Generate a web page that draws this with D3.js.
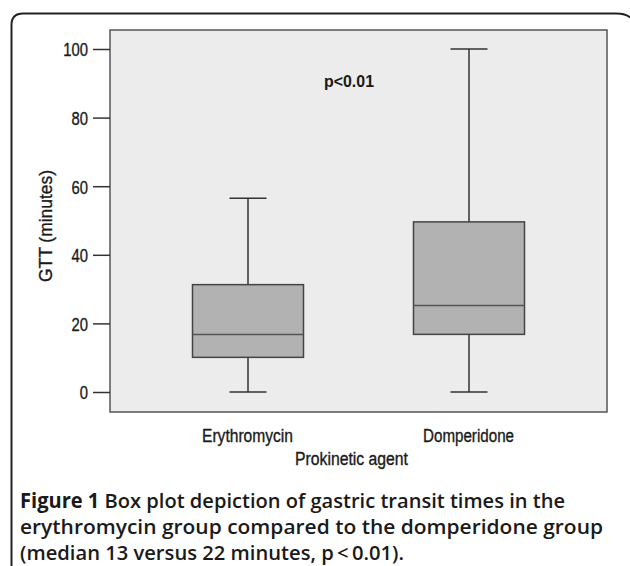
<!DOCTYPE html>
<html>
<head>
<meta charset="utf-8">
<script src="https://cdn.jsdelivr.net/npm/d3@7"></script>
<style>
  body { margin: 0; background: #fff; }
  svg { display: block; }
</style>
</head>
<body>
<div id="chart"></div>
<script>
// Box plot data (minutes)
const groups = ['Erythromycin', 'Domperidone'];
const whiskerLow = [0, 0];
const q1 = [10.1, 16.8];
const medians = [16.8, 25.2];
const q3 = [31.3, 49.6];
const whiskerHigh = [56.5, 100];
const yTicks = [0, 20, 40, 60, 80, 100];

const width = 630, height = 566;
const plot = { left: 110, top: 30, right: 607, bottom: 412 };

const svg = d3.select('#chart').append('svg')
  .attr('width', width)
  .attr('height', height);

// Outer rounded frame (open at the bottom / right)
svg.append('path')
  .attr('d', `M11.5,${height + 5} L11.5,25 Q11.5,13.5 23,13.5 L616,13.5 Q627,13.5 632,19`)
  .attr('fill', 'none')
  .attr('stroke', '#222')
  .attr('stroke-width', 2);

// Plot panel
svg.append('rect')
  .attr('x', plot.left).attr('y', plot.top)
  .attr('width', plot.right - plot.left)
  .attr('height', plot.bottom - plot.top)
  .attr('fill', '#ececec')
  .attr('stroke', '#555')
  .attr('stroke-width', 1.5);

const y = d3.scaleLinear().domain([0, 100]).range([392, 49]);
const x = d3.scalePoint().domain(groups).range([248, 469]);

const axisFont = '"Liberation Sans", Arial, sans-serif';
const ink = '#1a1a1a';
const squeeze = 0.78;

// thicken the narrow axis text a little
function inked(sel) {
  return sel.attr('fill', ink).attr('stroke', ink).attr('stroke-width', 0.35);
}

// Y axis
const yAxis = svg.append('g')
  .attr('transform', `translate(${plot.left},0)`)
  .call(d3.axisLeft(y).tickValues(yTicks).tickSize(17).tickPadding(5));
yAxis.select('.domain').remove();
yAxis.selectAll('.tick line').attr('stroke', '#333').attr('stroke-width', 1.5);
yAxis.selectAll('.tick text')
  .attr('font-family', axisFont)
  .attr('font-size', '19px')
  .attr('x', -22 / squeeze)
  .attr('dy', '0.36em')
  .attr('transform', `scale(${squeeze},1)`)
  .call(inked);

svg.append('text')
  .attr('transform', `translate(52,226) rotate(-90)`)
  .attr('text-anchor', 'middle')
  .attr('font-family', axisFont)
  .attr('font-size', '19px')
  .attr('textLength', 112)
  .attr('lengthAdjust', 'spacingAndGlyphs')
  .text('GTT (minutes)')
  .call(inked);

// X labels
svg.append('g').selectAll('text')
  .data(groups)
  .join('text')
  .attr('x', d => x(d) - 46)
  .attr('y', 442)
  .attr('font-family', axisFont)
  .attr('font-size', '18px')
  .attr('textLength', 91)
  .attr('lengthAdjust', 'spacingAndGlyphs')
  .text(d => d)
  .call(inked);

svg.append('text')
  .attr('x', 295).attr('y', 465)
  .attr('font-family', axisFont)
  .attr('font-size', '18px')
  .attr('textLength', 113)
  .attr('lengthAdjust', 'spacingAndGlyphs')
  .text('Prokinetic agent')
  .call(inked);

// Boxes
const boxW = 111, capW = 37;
const boxes = svg.append('g').selectAll('g')
  .data(groups.map((g, i) => ({ g, lo: whiskerLow[i], q1: q1[i], med: medians[i], q3: q3[i], hi: whiskerHigh[i] })))
  .join('g');

boxes.append('line')
  .attr('x1', d => x(d.g)).attr('x2', d => x(d.g))
  .attr('y1', d => y(d.hi)).attr('y2', d => y(d.lo))
  .attr('stroke', '#333').attr('stroke-width', 1.5);

boxes.selectAll('.cap')
  .data(d => [d.lo, d.hi].map(v => ({ g: d.g, v })))
  .join('line')
  .attr('class', 'cap')
  .attr('x1', d => x(d.g) - capW / 2).attr('x2', d => x(d.g) + capW / 2)
  .attr('y1', d => y(d.v)).attr('y2', d => y(d.v))
  .attr('stroke', '#333').attr('stroke-width', 1.5);

boxes.append('rect')
  .attr('x', d => x(d.g) - boxW / 2)
  .attr('y', d => y(d.q3))
  .attr('width', boxW)
  .attr('height', d => y(d.q1) - y(d.q3))
  .attr('fill', '#b2b2b2')
  .attr('stroke', '#444')
  .attr('stroke-width', 1.5);

boxes.append('line')
  .attr('x1', d => x(d.g) - boxW / 2).attr('x2', d => x(d.g) + boxW / 2)
  .attr('y1', d => y(d.med)).attr('y2', d => y(d.med))
  .attr('stroke', '#555').attr('stroke-width', 1.5);

// p value annotation
svg.append('text')
  .attr('x', 324).attr('y', 87)
  .attr('font-family', axisFont)
  .attr('font-size', '17px')
  .attr('font-weight', 'bold')
  .attr('fill', ink)
  .attr('textLength', 50)
  .attr('lengthAdjust', 'spacingAndGlyphs')
  .text('p<0.01');

// Caption
const captionFont = '"Open Sans", "Noto Sans", sans-serif';
const captionLines = [
  { y: 508, len: 545 },
  { y: 534, len: 583 },
  { y: 560, len: 384 }
];
const captionText = [
  ['Figure 1', ' Box plot depiction of gastric transit times in the'],
  ['', 'erythromycin group compared to the domperidone group'],
  ['', '(median 13 versus 22 minutes, p\u2009<\u20090.01).']
];
captionText.forEach((parts, i) => {
  const t = svg.append('text')
    .attr('x', 20).attr('y', captionLines[i].y)
    .attr('font-family', captionFont)
    .attr('font-size', '20.5px')
    .attr('fill', ink)
    .attr('textLength', captionLines[i].len)
    .attr('lengthAdjust', 'spacingAndGlyphs');
  if (parts[0]) t.append('tspan').attr('font-weight', 'bold').text(parts[0]);
  t.append('tspan').attr('font-weight', 600).text(parts[1]);
});
</script>
</body>
</html>
